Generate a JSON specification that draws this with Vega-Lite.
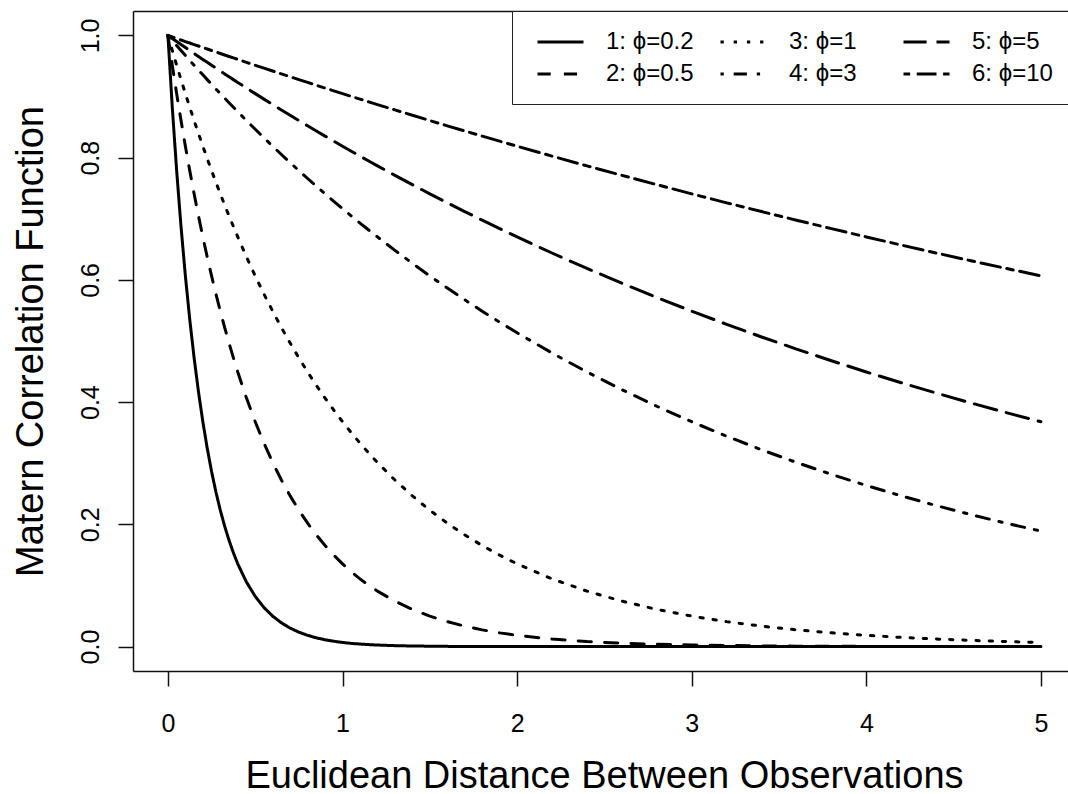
{
  "$schema": "https://vega.github.io/schema/vega-lite/v6.json",
  "autosize": {"type": "none"},
  "padding": {"left": 133, "top": 11, "right": 0, "bottom": 123},
  "width": 935,
  "height": 660,
  "background": "white",
  "config": {
    "font": "Liberation Sans",
    "view": {"stroke": null},
    "axis": {
      "grid": false,
      "domainColor": "#111111",
      "domainWidth": 1.5,
      "tickColor": "#111111",
      "tickWidth": 1.5,
      "tickSize": 15,
      "labelColor": "black",
      "titleColor": "black",
      "labelFont": "Liberation Sans",
      "titleFont": "Liberation Sans",
      "titleFontWeight": "normal",
      "labelFontSize": 25,
      "titleFontSize": 38
    },
    "legend": {
      "labelFont": "Liberation Sans",
      "labelFontSize": 24,
      "labelColor": "black"
    }
  },
  "data": {
    "values": [
      {"d": 0, "a": 1, "b": 1, "c": 1, "e": 1, "f": 1, "g": 1},
      {"d": 0.025, "a": 0.8825, "b": 0.9512, "c": 0.9753, "e": 0.9917, "f": 0.995, "g": 0.9975},
      {"d": 0.05, "a": 0.7788, "b": 0.9048, "c": 0.9512, "e": 0.9835, "f": 0.99, "g": 0.995},
      {"d": 0.075, "a": 0.6873, "b": 0.8607, "c": 0.9277, "e": 0.9753, "f": 0.9851, "g": 0.9925},
      {"d": 0.1, "a": 0.6065, "b": 0.8187, "c": 0.9048, "e": 0.9672, "f": 0.9802, "g": 0.99},
      {"d": 0.125, "a": 0.5353, "b": 0.7788, "c": 0.8825, "e": 0.9592, "f": 0.9753, "g": 0.9876},
      {"d": 0.15, "a": 0.4724, "b": 0.7408, "c": 0.8607, "e": 0.9512, "f": 0.9704, "g": 0.9851},
      {"d": 0.175, "a": 0.4169, "b": 0.7047, "c": 0.8395, "e": 0.9433, "f": 0.9656, "g": 0.9827},
      {"d": 0.2, "a": 0.3679, "b": 0.6703, "c": 0.8187, "e": 0.9355, "f": 0.9608, "g": 0.9802},
      {"d": 0.225, "a": 0.3247, "b": 0.6376, "c": 0.7985, "e": 0.9277, "f": 0.956, "g": 0.9778},
      {"d": 0.25, "a": 0.2865, "b": 0.6065, "c": 0.7788, "e": 0.92, "f": 0.9512, "g": 0.9753},
      {"d": 0.275, "a": 0.2528, "b": 0.5769, "c": 0.7596, "e": 0.9124, "f": 0.9465, "g": 0.9729},
      {"d": 0.3, "a": 0.2231, "b": 0.5488, "c": 0.7408, "e": 0.9048, "f": 0.9418, "g": 0.9704},
      {"d": 0.325, "a": 0.1969, "b": 0.522, "c": 0.7225, "e": 0.8973, "f": 0.9371, "g": 0.968},
      {"d": 0.35, "a": 0.1738, "b": 0.4966, "c": 0.7047, "e": 0.8899, "f": 0.9324, "g": 0.9656},
      {"d": 0.375, "a": 0.1534, "b": 0.4724, "c": 0.6873, "e": 0.8825, "f": 0.9277, "g": 0.9632},
      {"d": 0.4, "a": 0.1353, "b": 0.4493, "c": 0.6703, "e": 0.8752, "f": 0.9231, "g": 0.9608},
      {"d": 0.45, "a": 0.1054, "b": 0.4066, "c": 0.6376, "e": 0.8607, "f": 0.9139, "g": 0.956},
      {"d": 0.5, "a": 0.0821, "b": 0.3679, "c": 0.6065, "e": 0.8465, "f": 0.9048, "g": 0.9512},
      {"d": 0.55, "a": 0.0639, "b": 0.3329, "c": 0.5769, "e": 0.8325, "f": 0.8958, "g": 0.9465},
      {"d": 0.6, "a": 0.0498, "b": 0.3012, "c": 0.5488, "e": 0.8187, "f": 0.8869, "g": 0.9418},
      {"d": 0.65, "a": 0.0388, "b": 0.2725, "c": 0.522, "e": 0.8052, "f": 0.8781, "g": 0.9371},
      {"d": 0.7, "a": 0.0302, "b": 0.2466, "c": 0.4966, "e": 0.7919, "f": 0.8694, "g": 0.9324},
      {"d": 0.75, "a": 0.0235, "b": 0.2231, "c": 0.4724, "e": 0.7788, "f": 0.8607, "g": 0.9277},
      {"d": 0.8, "a": 0.0183, "b": 0.2019, "c": 0.4493, "e": 0.7659, "f": 0.8521, "g": 0.9231},
      {"d": 0.85, "a": 0.0143, "b": 0.1827, "c": 0.4274, "e": 0.7533, "f": 0.8437, "g": 0.9185},
      {"d": 0.9, "a": 0.0111, "b": 0.1653, "c": 0.4066, "e": 0.7408, "f": 0.8353, "g": 0.9139},
      {"d": 0.95, "a": 0.0087, "b": 0.1496, "c": 0.3867, "e": 0.7286, "f": 0.827, "g": 0.9094},
      {"d": 1.0, "a": 0.0067, "b": 0.1353, "c": 0.3679, "e": 0.7165, "f": 0.8187, "g": 0.9048},
      {"d": 1.05, "a": 0.0052, "b": 0.1225, "c": 0.3499, "e": 0.7047, "f": 0.8106, "g": 0.9003},
      {"d": 1.1, "a": 0.0041, "b": 0.1108, "c": 0.3329, "e": 0.693, "f": 0.8025, "g": 0.8958},
      {"d": 1.15, "a": 0.0032, "b": 0.1003, "c": 0.3166, "e": 0.6816, "f": 0.7945, "g": 0.8914},
      {"d": 1.2, "a": 0.0025, "b": 0.0907, "c": 0.3012, "e": 0.6703, "f": 0.7866, "g": 0.8869},
      {"d": 1.3, "a": 0.0015, "b": 0.0743, "c": 0.2725, "e": 0.6483, "f": 0.7711, "g": 0.8781},
      {"d": 1.4, "a": 0.0009, "b": 0.0608, "c": 0.2466, "e": 0.6271, "f": 0.7558, "g": 0.8694},
      {"d": 1.5, "a": 0.0006, "b": 0.0498, "c": 0.2231, "e": 0.6065, "f": 0.7408, "g": 0.8607},
      {"d": 1.6, "a": 0.0003, "b": 0.0408, "c": 0.2019, "e": 0.5866, "f": 0.7261, "g": 0.8521},
      {"d": 1.7, "a": 0.0002, "b": 0.0334, "c": 0.1827, "e": 0.5674, "f": 0.7118, "g": 0.8437},
      {"d": 1.8, "a": 0.0001, "b": 0.0273, "c": 0.1653, "e": 0.5488, "f": 0.6977, "g": 0.8353},
      {"d": 1.9, "a": 0.0001, "b": 0.0224, "c": 0.1496, "e": 0.5308, "f": 0.6839, "g": 0.827},
      {"d": 2.0, "a": 0, "b": 0.0183, "c": 0.1353, "e": 0.5134, "f": 0.6703, "g": 0.8187},
      {"d": 2.2, "a": 0, "b": 0.0123, "c": 0.1108, "e": 0.4803, "f": 0.644, "g": 0.8025},
      {"d": 2.4, "a": 0, "b": 0.0082, "c": 0.0907, "e": 0.4493, "f": 0.6188, "g": 0.7866},
      {"d": 2.6, "a": 0, "b": 0.0055, "c": 0.0743, "e": 0.4204, "f": 0.5945, "g": 0.7711},
      {"d": 2.8, "a": 0, "b": 0.0037, "c": 0.0608, "e": 0.3932, "f": 0.5712, "g": 0.7558},
      {"d": 3.0, "a": 0, "b": 0.0025, "c": 0.0498, "e": 0.3679, "f": 0.5488, "g": 0.7408},
      {"d": 3.2, "a": 0, "b": 0.0017, "c": 0.0408, "e": 0.3442, "f": 0.5273, "g": 0.7261},
      {"d": 3.4, "a": 0, "b": 0.0011, "c": 0.0334, "e": 0.322, "f": 0.5066, "g": 0.7118},
      {"d": 3.6, "a": 0, "b": 0.0007, "c": 0.0273, "e": 0.3012, "f": 0.4868, "g": 0.6977},
      {"d": 3.8, "a": 0, "b": 0.0005, "c": 0.0224, "e": 0.2818, "f": 0.4677, "g": 0.6839},
      {"d": 4.0, "a": 0, "b": 0.0003, "c": 0.0183, "e": 0.2636, "f": 0.4493, "g": 0.6703},
      {"d": 4.2, "a": 0, "b": 0.0002, "c": 0.015, "e": 0.2466, "f": 0.4317, "g": 0.657},
      {"d": 4.4, "a": 0, "b": 0.0002, "c": 0.0123, "e": 0.2307, "f": 0.4148, "g": 0.644},
      {"d": 4.6, "a": 0, "b": 0.0001, "c": 0.0101, "e": 0.2158, "f": 0.3985, "g": 0.6313},
      {"d": 4.8, "a": 0, "b": 0.0001, "c": 0.0082, "e": 0.2019, "f": 0.3829, "g": 0.6188},
      {"d": 5.0, "a": 0, "b": 0, "c": 0.0067, "e": 0.1889, "f": 0.3679, "g": 0.6065}
    ]
  },
  "transform": [{"fold": ["a", "b", "c", "e", "f", "g"], "as": ["k", "r"]}],
  "resolve": {"axis": {"x": "independent"}},
  "layer": [
    {
      "mark": {"type": "line", "color": "black", "strokeWidth": 3, "strokeCap": "round", "strokeJoin": "round"},
      "encoding": {
        "x": {
          "field": "d", "type": "quantitative",
          "scale": {"domain": [-0.2, 5.155], "nice": false, "zero": false},
          "axis": {
            "orient": "bottom",
            "values": [0, 1, 2, 3, 4, 5],
            "format": "d",
            "labelPadding": 25,
            "labelBaseline": "top",
            "title": "Euclidean Distance Between Observations",
            "titleX": 471,
            "titleY": 116,
            "titleAlign": "center",
            "titleBaseline": "alphabetic",
            "titleAnchor": null
          }
        },
        "y": {
          "field": "r", "type": "quantitative",
          "scale": {"domain": [-0.04, 1.04], "nice": false, "zero": false},
          "axis": {
            "orient": "left",
            "values": [0, 0.2, 0.4, 0.6, 0.8, 1],
            "format": ".1f",
            "labelAngle": 270,
            "labelAlign": "center",
            "labelBaseline": "alphabetic",
            "labelPadding": 20,
            "title": "Matern Correlation Function",
            "titleAngle": 270,
            "titleX": -91,
            "titleY": 330,
            "titleAlign": "center",
            "titleBaseline": "alphabetic",
            "titleAnchor": null
          }
        },
        "strokeDash": {
          "field": "k", "type": "nominal",
          "scale": {
            "domain": ["a", "c", "f", "b", "e", "g"],
            "range": [[1, 0], [3.3, 9.9], [23.1, 9.9], [13.2, 13.2], [3.3, 9.9, 13.2, 9.9], [6.6, 6.6, 19.8, 6.6]]
          },
          "legend": {
            "orient": "none",
            "legendX": 379,
            "legendY": 0,
            "title": null,
            "columns": 3,
            "direction": "horizontal",
            "gridAlign": "all",
            "columnPadding": 19,
            "rowPadding": 7,
            "padding": 18,
            "symbolOffset": 17.5,
            "strokeColor": "#222222",
            "fillColor": "white",
            "symbolType": "M-2,0H2",
            "symbolSize": 529,
            "symbolStrokeWidth": 3,
            "symbolStrokeColor": "black",
            "symbolFillColor": "transparent",
            "labelOffset": 32.5,
            "labelExpr": "({'a': '1: ϕ=0.2', 'b': '2: ϕ=0.5', 'c': '3: ϕ=1', 'e': '4: ϕ=3', 'f': '5: ϕ=5', 'g': '6: ϕ=10'})[datum.value]",
            "labelLimit": 300
          }
        }
      }
    },
    {
      "mark": {"type": "point", "opacity": 0},
      "encoding": {
        "x": {
          "field": "d", "type": "quantitative",
          "axis": {"orient": "top", "ticks": false, "labels": false, "title": null, "domain": true}
        }
      }
    }
  ]
}
